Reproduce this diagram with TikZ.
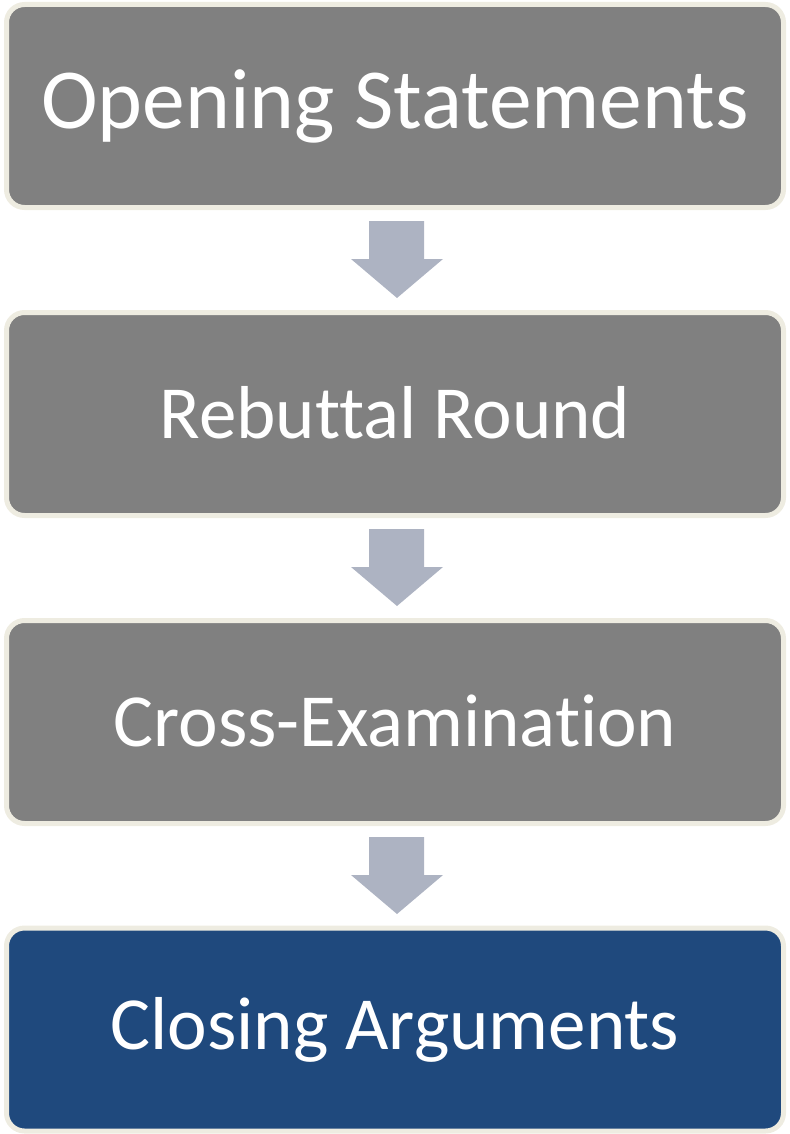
\documentclass[tikz,border=0pt]{standalone}
\usepackage{fontspec}
\setmainfont{Carlito}[Ligatures=NoCommon]
\usepackage{tikz}
\usetikzlibrary{shapes,arrows,positioning}

\definecolor{boxgray}{HTML}{808080}
\definecolor{boxblue}{HTML}{1F497D}
\definecolor{boxrim}{HTML}{EEECE1}
\definecolor{arrowgray}{HTML}{ADB3C2}

\begin{document}
\begin{tikzpicture}[x=1pt,y=1pt]
	\tikzset{align=center,font=\fontsize{75}{90}\selectfont}

	\tikzset{stage/.style = {shape=rectangle,rounded corners=18pt,draw=boxrim,line width=5pt,
		fill=boxgray,text=white,minimum width=777pt,minimum height=203pt,inner sep=0pt}}

	\tikzset{down/.style = {fill=arrowgray,draw=none}}

	\useasboundingbox (0,0) rectangle (789,-1134);

	% stages

	\node[stage,font=\fontsize{85.5}{102}\selectfont] (open) at (395,-106) {Opening Statements};

	\node[stage] (rebut) at (395,-414) {\raisebox{3pt}{Rebuttal Round}};

	\node[stage] (cross) at (395,-722) {\raisebox{3pt}{Cross-Examination}};

	\node[stage,fill=boxblue] (close) at (395,-1029.5) {\raisebox{3pt}{Closing Arguments}};

	% arrows

	\fill[down] (369,-221) -- (424,-221) -- (424,-259) -- (443,-259) -- (397,-298) -- (351,-259) -- (369,-259) -- cycle;

	\fill[down] (369,-529) -- (424,-529) -- (424,-567) -- (443,-567) -- (397,-606) -- (351,-567) -- (369,-567) -- cycle;

	\fill[down] (369,-837) -- (424,-837) -- (424,-875) -- (443,-875) -- (397,-914) -- (351,-875) -- (369,-875) -- cycle;
\end{tikzpicture}
\end{document}
